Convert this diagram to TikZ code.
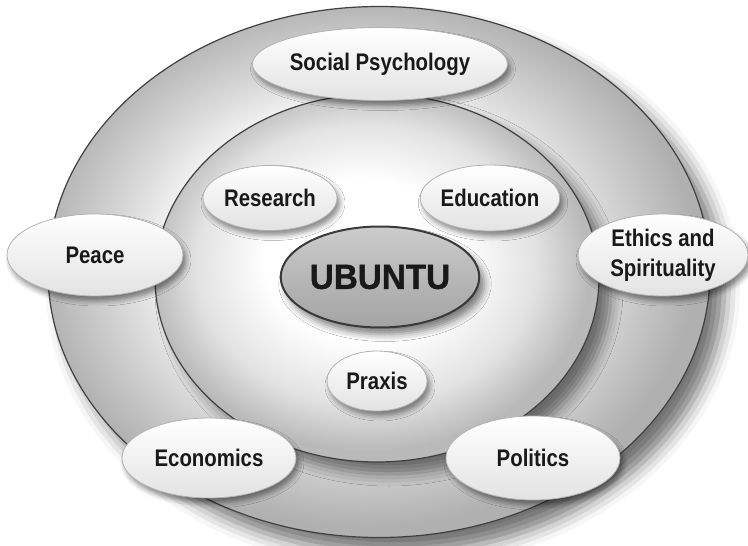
\documentclass[tikz,border=0pt]{standalone}
\usepackage{fontspec}
\setmainfont{Liberation Sans Bold}[FakeStretch=0.85]
\newfontfamily\coreface{Liberation Sans Bold}[FakeStretch=0.95,FakeBold=1]
\usetikzlibrary{shapes.geometric,shadows.blur}

% ring shadings
\pgfdeclareradialshading{outershade}{\pgfpoint{-2bp}{2bp}}{color(0bp)=(white); color(15bp)=(gray!12); color(18bp)=(gray!28); color(25bp)=(gray!62); color(50bp)=(gray!62)}
\pgfdeclareradialshading{innershade}{\pgfpoint{-2bp}{3bp}}{color(0bp)=(white); color(11bp)=(white); color(19bp)=(gray!22); color(25bp)=(gray!55); color(50bp)=(gray!55)}

\tikzset{
  ring/.style={ellipse, draw=gray!50!black, line width=1.2pt, inner sep=0pt},
  topic/.style={ellipse, draw=gray!60, line width=0.8pt, inner sep=0pt, align=center,
    top color=white, middle color=white, bottom color=gray!22,
    font=\fontsize{24}{30}\selectfont, text=black!90,
    blur shadow={shadow xshift=3pt, shadow yshift=-5pt, shadow blur radius=5pt, shadow opacity=45}},
  core/.style={ellipse, draw=gray!45!black, line width=2pt, inner sep=0pt,
    top color=gray!40, bottom color=gray!72,
    font=\coreface\fontsize{35}{40}\selectfont, text=black!90,
    blur shadow={shadow xshift=5pt, shadow yshift=-7pt, shadow blur radius=7pt, shadow opacity=50}}
}

\begin{document}
\begin{tikzpicture}[x=1pt, y=-1pt]
\useasboundingbox (0,0) rectangle (748,546);
% rings
\node[ring, minimum width=662pt, minimum height=531pt, shading=outershade,
  blur shadow={shadow xshift=14pt, shadow yshift=-16pt, shadow blur radius=16pt, shadow opacity=55}] (outer) at (379,272) {};
\node[ring, minimum width=444pt, minimum height=368pt, shading=innershade,
  blur shadow={shadow xshift=12pt, shadow yshift=-12pt, shadow blur radius=12pt, shadow opacity=50}] (inner) at (377,278) {};
% centre
\node[core, minimum width=192pt, minimum height=101pt] (ubuntu) at (380,277) {UBUNTU};
% inner ring topics
\node[topic, minimum width=134pt, minimum height=65pt] (research) at (270,198) {Research};
\node[topic, minimum width=134pt, minimum height=66pt] (education) at (490,198) {Education};
\node[topic, minimum width=100pt, minimum height=60pt] (praxis) at (377,381) {Praxis};
% outer ring topics
\node[topic, minimum width=238pt, minimum height=73pt] (socpsy) at (380,64) {Social Psychology};
\node[topic, minimum width=176pt, minimum height=82pt] (peace) at (95,255) {Peace};
\node[topic, minimum width=170pt, minimum height=82pt] (ethics) at (663,255) {Ethics and\\Spirituality};
\node[topic, minimum width=174pt, minimum height=80pt] (economics) at (209,458) {Economics};
\node[topic, minimum width=174pt, minimum height=84pt] (politics) at (533,458) {Politics};
\end{tikzpicture}
\end{document}
